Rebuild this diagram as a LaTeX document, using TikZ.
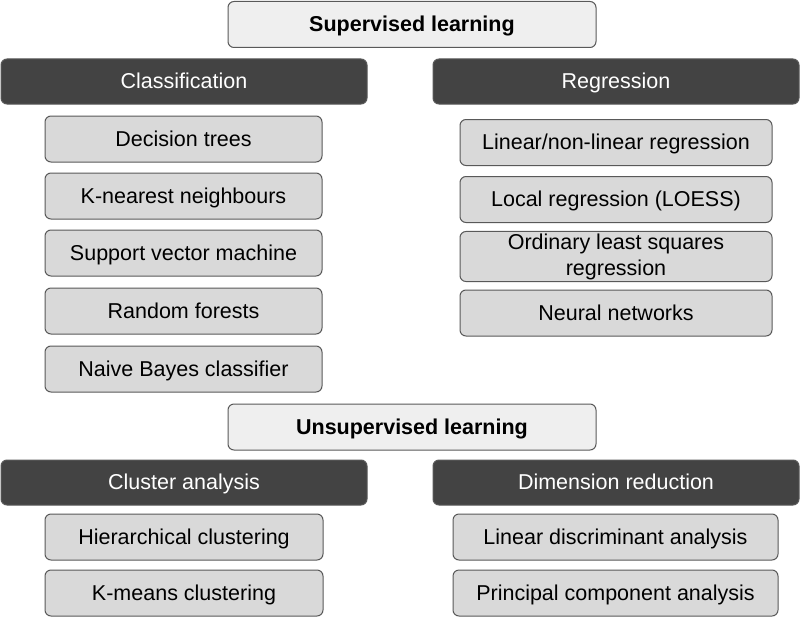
\documentclass[tikz,border=0pt]{standalone}
\usepackage{fontspec}
\setmainfont{Liberation Sans}
\definecolor{hdrfill}{HTML}{EFEFEF}
\definecolor{catfill}{HTML}{434343}
\definecolor{itemfill}{HTML}{D9D9D9}
\definecolor{edge}{HTML}{595959}
\tikzset{ hdr/.style = { rectangle
                       , rounded corners = 6pt
                       , draw = edge
                       , line width   = 1pt
                       , fill = hdrfill
                       , inner sep    = 2pt
                       , text height  = 16pt
                       , text depth   = 2pt
                       , minimum width  = 368pt
                       , minimum height = 46pt
                       , font = \fontsize{21.5}{26}\selectfont\bfseries
                       },
          cat/.style = { rectangle
                       , rounded corners = 6pt
                       , draw = edge
                       , line width   = 1pt
                       , fill = catfill
                       , text = white
                       , inner sep    = 2pt
                       , text height  = 16pt
                       , text depth   = 2pt
                       , minimum width  = 366pt
                       , minimum height = 45pt
                       , font = \fontsize{21.5}{26}\selectfont
                       },
         item/.style = { rectangle
                       , rounded corners = 6pt
                       , draw = edge
                       , line width   = 1pt
                       , fill = itemfill
                       , inner sep    = 2pt
                       , text height  = 16pt
                       , text depth   = 2pt
                       , minimum height = 46pt
                       , align = center
                       , font = \fontsize{21.5}{26}\selectfont
                       }
        }
\begin{document}
\begin{tikzpicture}[x=1pt, y=-1pt]
    \useasboundingbox (0,0) rectangle (800,618);
    % supervised
    \node[hdr] (sup) at (412,24.5) {Supervised learning};
    \node[cat] (clas) at (184,81.5) {Classification};
    \node[cat] (regr) at (616,81.5) {Regression};
    \node[item, minimum width=277pt] (dt)  at (183.5,139) {Decision trees};
    \node[item, minimum width=277pt] (knn) at (183.5,196) {K-nearest neighbours};
    \node[item, minimum width=277pt] (svm) at (183.5,253) {Support vector machine};
    \node[item, minimum width=277pt] (rf)  at (183.5,311) {Random forests};
    \node[item, minimum width=277pt] (nb)  at (183.5,369) {Naive Bayes classifier};
    \node[item, minimum width=312pt] (lin) at (616,142.5) {Linear/non-linear regression};
    \node[item, minimum width=312pt] (loe) at (616,199.5) {Local regression (LOESS)};
    \node[item, minimum width=312pt, minimum height=47pt, text height=, text depth=]
        (ols) at (616,256.5) {Ordinary least squares\\regression};
    \node[item, minimum width=312pt] (nn)  at (616,313) {Neural networks};
    % unsupervised
    \node[hdr] (unsup) at (412,427) {Unsupervised learning};
    \node[cat] (clus) at (184,482.5) {Cluster analysis};
    \node[cat] (dim)  at (616,482.5) {Dimension reduction};
    \node[item, minimum width=278pt] (hc)  at (184,537) {Hierarchical clustering};
    \node[item, minimum width=278pt] (km)  at (184,593) {K-means clustering};
    \node[item, minimum width=325pt] (lda) at (615.5,537) {Linear discriminant analysis};
    \node[item, minimum width=325pt] (pca) at (615.5,593) {Principal component analysis};
\end{tikzpicture}
\end{document}
